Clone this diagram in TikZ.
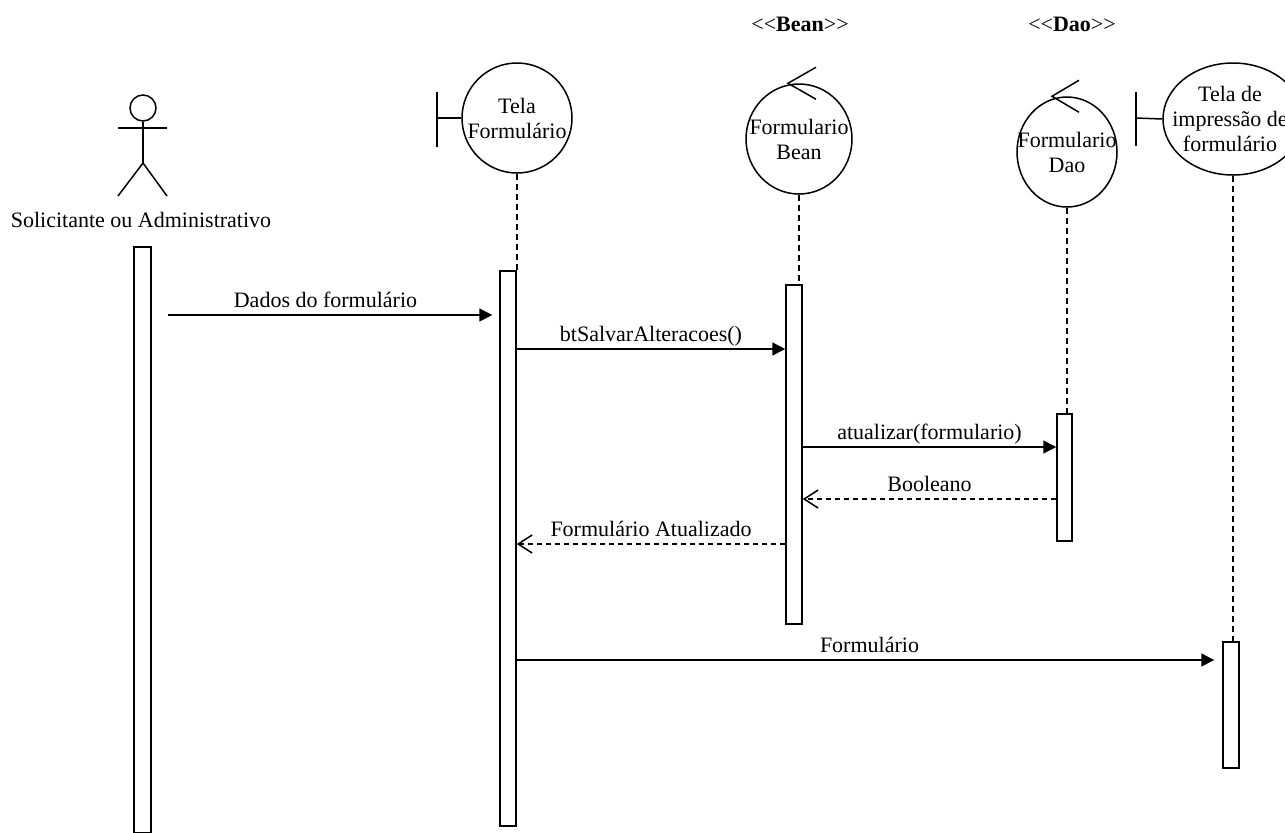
\documentclass[tikz,border=0pt]{standalone}
\usepackage{fontspec}
\setmainfont{Liberation Serif}
\usetikzlibrary{arrows.meta,shapes.geometric,calc}

\tikzset{
        trazo/.style={line width=0.75pt},
        cabeza/.style={draw, ellipse, line width=0.75pt, inner sep=0pt},
        rotulo/.style={align=center, inner sep=0pt, font=\fontsize{11}{12.5}\selectfont},
        barra/.style={draw, fill=white, line width=0.75pt, anchor=north, inner sep=0pt},
        vida/.style={line width=0.75pt, dash pattern=on 3pt off 2pt},
        msg/.style={line width=0.75pt, -{Triangle[length=6.5pt,width=6.5pt]}},
        resp/.style={line width=0.75pt, dash pattern=on 2.5pt off 2pt, -{Straight Barb[length=7pt,width=9pt]}},
        etiqueta/.style={rotulo, anchor=base, yshift=4pt}
}

\begin{document}
\begin{tikzpicture}[x=0.5pt, y=-0.5pt]
        \useasboundingbox (0,0) rectangle (1285,832);

        % Paso 1: Dibuja el actor y su nombre
        \node[draw, circle, trazo, minimum size=13pt, inner sep=0pt] (cabezaAct) at (143,108) {};
        \coordinate (cadera) at (143,163);
        \coordinate (brazoIzq) at (118,128);
        \coordinate (brazoDer) at (167,128);
        \draw[trazo] (cabezaAct.south) -- (cadera);
        \draw[trazo] (brazoIzq) -- (brazoDer);
        \draw[trazo] (118,196) -- (cadera) -- (167,196);
        \node[rotulo] (nomAct) at (141,220) {Solicitante ou Administrativo};

        % Paso 2: Dibuja la frontera Tela Formulário
        \node[cabeza, minimum width=55pt, minimum height=55pt,
              label={[rotulo]center:Tela\\Formulário}] (telaF) at (517,118) {};
        \draw[trazo] (437,92) -- (437,147);
        \draw[trazo] (437,118) -- (telaF.west);

        % Paso 3: Dibuja los controles Bean y Dao con sus estereotipos
        \node[rotulo] (esteBean) at (800,24) {\textless\kern0pt\textless\textbf{Bean}\textgreater\kern0pt\textgreater};
        \node[cabeza, minimum width=53pt, minimum height=55pt,
              label={[rotulo]center:Formulario\\Bean}] (beanC) at (799,139) {};
        \draw[trazo] ($(beanC.north)+(17,-16)$) -- ($(beanC.north)+(-11,0)$) -- ($(beanC.north)+(17,16)$);

        \node[rotulo] (esteDao) at (1072,24) {\textless\kern0pt\textless\textbf{Dao}\textgreater\kern0pt\textgreater};
        \node[cabeza, minimum width=50pt, minimum height=55pt,
              label={[rotulo]center:Formulario\\Dao}] (daoC) at (1067,152) {};
        \draw[trazo] ($(daoC.north)+(12,-16)$) -- ($(daoC.north)+(-15,0)$) -- ($(daoC.north)+(12,16)$);

        % Paso 4: Dibuja la frontera Tela de impressão
        \node[cabeza, minimum width=70pt, minimum height=56pt,
              label={[rotulo, xshift=-1.5pt]center:Tela de\\impressão de\\formulário}] (impC) at (1233,119) {};
        \draw[trazo] (1136,92) -- (1136,146);
        \draw[trazo] (1136,118) -- (impC.west);

        % Paso 5: Barras de activación
        \node[barra, minimum width=8.5pt, minimum height=293pt] (barAct) at (142.5,246) {};
        \node[barra, minimum width=8pt, minimum height=277.5pt] (barTela) at (508,270) {};
        \node[barra, minimum width=8pt, minimum height=169.5pt] (barBean) at (794,284) {};
        \node[barra, minimum width=7.5pt, minimum height=63.5pt] (barDao) at (1064.5,413) {};
        \node[barra, minimum width=8pt, minimum height=63pt] (barImp) at (1231,641) {};

        % Paso 6: Líneas de vida
        \draw[vida] (telaF.south) -- (telaF.south |- barTela.north);
        \draw[vida] (beanC.south) -- (beanC.south |- barBean.north);
        \draw[vida] (daoC.south) -- (daoC.south |- barDao.north);
        \draw[vida] (impC.south) -- (impC.south |- barImp.north);

        % Paso 7: Mensajes entre las barras
        \coordinate (y1) at (0,315);
        \coordinate (y2) at (0,349);
        \coordinate (y3) at (0,447);
        \coordinate (y4) at (0,499);
        \coordinate (y5) at (0,544);
        \coordinate (y6) at (0,660);
        \draw[msg, shorten <=8pt, shorten >=3.5pt] (barAct.east |- y1) -- (barTela.west |- y1)
                node[etiqueta, midway] {Dados do formulário};
        \draw[msg] (barTela.east |- y2) -- (barBean.west |- y2)
                node[etiqueta, midway] {btSalvarAlteracoes()};
        \draw[msg] (barBean.east |- y3) -- (barDao.west |- y3)
                node[etiqueta, midway] {atualizar(formulario)};
        \draw[resp] (barDao.west |- y4) -- (barBean.east |- y4)
                node[etiqueta, midway] {Booleano};
        \draw[resp] (barBean.west |- y5) -- (barTela.east |- y5)
                node[etiqueta, midway] {Formulário Atualizado};
        \draw[msg, shorten >=4pt] (barTela.east |- y6) -- (barImp.west |- y6)
                node[etiqueta, midway] {Formulário};
\end{tikzpicture}
\end{document}
